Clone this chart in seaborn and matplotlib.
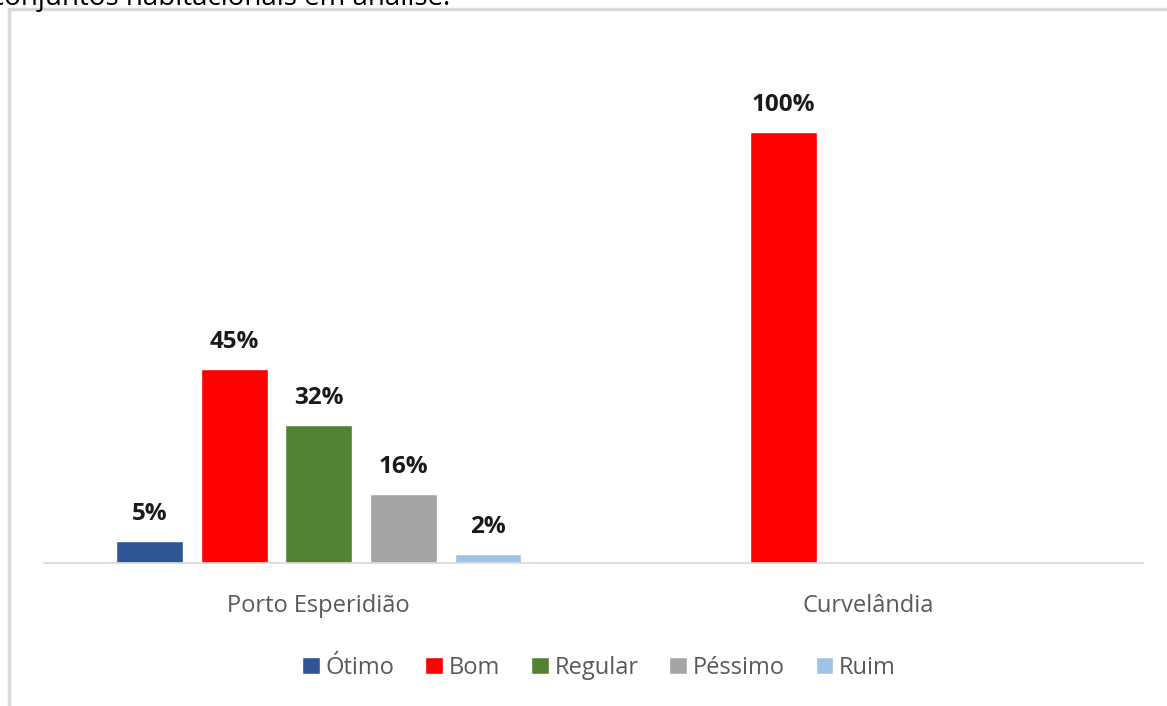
import matplotlib
matplotlib.use("Agg")
import matplotlib.pyplot as plt
import seaborn as sns
import pandas as pd

# data
cities = ["Porto Esperidião", "Curvelândia"]
ratings = ["Ótimo", "Bom", "Regular", "Péssimo", "Ruim"]
porto = [0.05, 0.45, 0.32, 0.16, 0.02]
curvelandia = [0.0, 1.00, 0.0, 0.0, 0.0]
colors = ["#2f5597", "#ff0000", "#548235", "#a5a5a5", "#9dc3e6"]

rows = []
for city, vals in zip(cities, [porto, curvelandia]):
    for r, v in zip(ratings, vals):
        rows.append({"cidade": city, "avaliacao": r, "valor": v})
df = pd.DataFrame(rows)

sns.set_style("white")
plt.rcParams["font.family"] = ["Open Sans", "DejaVu Sans"]

fig = plt.figure(figsize=(11.67, 7.06), dpi=100)
ax = fig.add_axes([44 / 1167, 143 / 706, 1099 / 1167, 503 / 706])

sns.barplot(data=df, x="cidade", y="valor", hue="avaliacao",
            hue_order=ratings, palette=colors, width=0.77, gap=0.21,
            saturation=1, ax=ax, legend=True)

# value labels, skip empty bars
for cont in ax.containers:
    labels = [f"{b.get_height() * 100:.0f}%" if b.get_height() > 0 else ""
              for b in cont]
    ax.bar_label(cont, labels=labels, padding=11, fontsize=17.5,
                 fontweight="bold", color="#1a1a1a")

ax.set_xlim(-0.5, 1.5)
ax.set_ylim(0, 1.167)
ax.set_xlabel("")
ax.set_ylabel("")
ax.set_yticks([])
ax.tick_params(axis="x", length=0, pad=22, labelsize=17, labelcolor="#595959")
for s in ["top", "right", "left"]:
    ax.spines[s].set_visible(False)
ax.spines["bottom"].set_color("#d9d9d9")
ax.spines["bottom"].set_linewidth(1.2)

handles, labels = ax.get_legend_handles_labels()
ax.legend(handles, labels, loc="center", bbox_to_anchor=(0.505, -0.208),
          ncol=5, frameon=False, fontsize=17, handlelength=0.75,
          handleheight=0.75, handletextpad=0.25, columnspacing=1.3,
          labelcolor="#595959")

# outer frame of the pasted chart (light gray)
fig.add_artist(plt.Line2D([9 / 1167, 9 / 1167], [0, 1 - 9 / 706],
                          transform=fig.transFigure, color="#d9d9d9", lw=2.5))
fig.add_artist(plt.Line2D([9 / 1167, 1], [1 - 9 / 706, 1 - 9 / 706],
                          transform=fig.transFigure, color="#d9d9d9", lw=2.5))

# cut-off caption at the very top
fig.text(-9 / 1167, 1 - 5 / 706, "conjuntos habitacionais em análise.",
         fontsize=20, color="#000000", va="baseline", ha="left")

fig.savefig("out.png", dpi=100)
